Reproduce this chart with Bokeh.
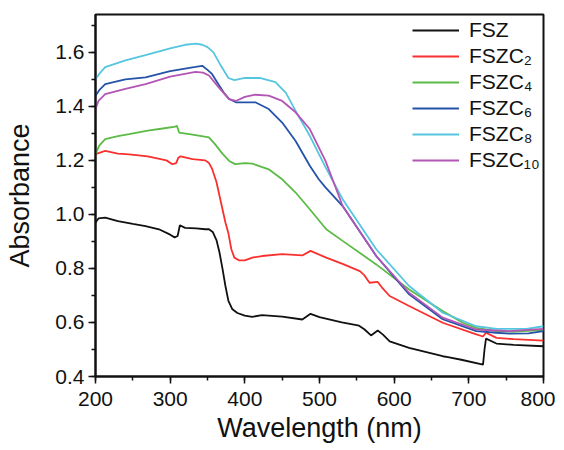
from bokeh.plotting import figure
from bokeh.models import Range1d, SingleIntervalTicker, Legend, LegendItem, PrintfTickFormatter
from bokeh.embed import file_html
from bokeh.resources import INLINE

# ---- data ----
fsz_x = [200, 204, 213, 230, 250, 267, 285, 300, 306, 310, 313, 320, 335, 347, 352, 357, 362, 366, 370,
         374, 378, 383, 390, 400, 410, 423, 450, 477, 488, 500, 530, 553, 560, 569, 578, 585, 594, 620,
         665, 672, 690, 719, 721, 723, 737, 760, 800]
fsz_y = [0.97, 0.985, 0.988, 0.975, 0.965, 0.957, 0.945, 0.925, 0.915, 0.92, 0.96, 0.95, 0.948, 0.945,
         0.945, 0.935, 0.905, 0.86, 0.80, 0.735, 0.68, 0.65, 0.635, 0.625, 0.621, 0.627, 0.622, 0.611,
         0.632, 0.62, 0.60, 0.588, 0.575, 0.552, 0.57, 0.555, 0.53, 0.506, 0.475, 0.472, 0.462, 0.444,
         0.50, 0.54, 0.522, 0.517, 0.512]

c2_x = [200, 205, 213, 230, 245, 270, 295, 303, 308, 311, 314, 330, 347, 352, 356, 362, 366, 370, 374,
        378, 382, 386, 392, 400, 410, 423, 450, 477, 488, 509, 530, 554, 560, 567, 578, 585, 594, 620,
        665, 710, 719, 723, 737, 760, 800]
c2_y = [1.223, 1.228, 1.235, 1.225, 1.222, 1.215, 1.20, 1.186, 1.19, 1.21, 1.215, 1.205, 1.20, 1.19,
        1.17, 1.12, 1.07, 1.02, 0.97, 0.93, 0.87, 0.84, 0.83, 0.83, 0.84, 0.846, 0.853, 0.848, 0.865,
        0.84, 0.818, 0.79, 0.775, 0.747, 0.75, 0.725, 0.698, 0.661, 0.599, 0.556, 0.548, 0.562, 0.543,
        0.538, 0.533]

c4_x = [200, 205, 213, 230, 245, 270, 290, 307, 309, 312, 330, 352, 360, 370, 379, 387, 400, 410, 432,
        450, 468, 487, 509, 531, 576, 620, 665, 692, 710, 737, 760, 800]
c4_y = [1.223, 1.255, 1.279, 1.29, 1.297, 1.31, 1.318, 1.325, 1.328, 1.303, 1.295, 1.285, 1.26, 1.225,
        1.198, 1.186, 1.19, 1.188, 1.167, 1.13, 1.081, 1.019, 0.945, 0.902, 0.815, 0.722, 0.642, 0.599,
        0.58, 0.568, 0.566, 0.572]

c6_x = [200, 205, 213, 240, 267, 300, 320, 334, 343, 350, 356, 365, 372, 379, 388, 400, 414, 432, 450,
        468, 487, 499, 508, 531, 576, 620, 665, 710, 737, 754, 780, 800]
c6_y = [1.439, 1.46, 1.482, 1.50, 1.507, 1.53, 1.54, 1.546, 1.55, 1.535, 1.52, 1.48, 1.45, 1.427, 1.415,
        1.415, 1.415, 1.39, 1.34, 1.272, 1.18, 1.13, 1.10, 1.031, 0.846, 0.704, 0.612, 0.568, 0.562,
        0.559, 0.56, 0.568]

c8_x = [200, 205, 213, 240, 267, 300, 320, 335, 343, 350, 358, 368, 378, 386, 400, 420, 441, 455, 468,
        487, 508, 531, 576, 620, 665, 710, 737, 777, 800]
c8_y = [1.501, 1.52, 1.545, 1.57, 1.59, 1.615, 1.628, 1.632, 1.628, 1.619, 1.60, 1.55, 1.505, 1.497,
        1.505, 1.505, 1.49, 1.45, 1.383, 1.291, 1.175, 1.056, 0.871, 0.735, 0.636, 0.586, 0.576, 0.576,
        0.586]

c10_x = [200, 204, 213, 240, 267, 300, 334, 344, 352, 365, 379, 388, 400, 414, 432, 450, 468, 487, 508,
         531, 576, 620, 665, 710, 754, 800]
c10_y = [1.39, 1.42, 1.445, 1.465, 1.482, 1.51, 1.528, 1.525, 1.514, 1.47, 1.427, 1.42, 1.435, 1.443,
         1.44, 1.42, 1.378, 1.316, 1.198, 1.031, 0.846, 0.71, 0.618, 0.574, 0.568, 0.576]

series_names = ["FSZ", "FSZC\u2082", "FSZC\u2084", "FSZC\u2086", "FSZC\u2088", "FSZC\u2081\u2080"]
series_colors = ["#111111", "#f8302e", "#5cba46", "#2553a8", "#55c6df", "#b355b5"]
series_xy = [(fsz_x, fsz_y), (c2_x, c2_y), (c4_x, c4_y), (c6_x, c6_y), (c8_x, c8_y), (c10_x, c10_y)]

x_label_text = "Wavelength (nm)"
y_label_text = "Absorbance"
x_major = 100
y_major = 0.2

FONT = "Liberation Sans"

p = figure(width=555, height=449, output_backend="svg", toolbar_location=None,
           x_range=Range1d(200, 800), y_range=Range1d(0.4, 1.74),
           min_border_left=95, min_border_right=12, min_border_top=14, min_border_bottom=73)

p.grid.visible = False
p.outline_line_color = "#111111"
p.outline_line_width = 2
p.background_fill_color = "white"
p.border_fill_color = "white"

items = []
for name, color, (xs, ys) in zip(series_names, series_colors, series_xy):
    r = p.line(xs, ys, line_color=color, line_width=1.8)
    items.append(LegendItem(label=name, renderers=[r]))

p.xaxis.ticker = SingleIntervalTicker(interval=x_major, num_minor_ticks=2)
p.yaxis.ticker = SingleIntervalTicker(interval=y_major, num_minor_ticks=2)
p.yaxis.formatter = PrintfTickFormatter(format="%.1f")

for ax in (p.xaxis[0], p.yaxis[0]):
    ax.axis_line_width = 2
    ax.axis_line_color = "#111111"
    ax.major_tick_line_color = "#111111"
    ax.minor_tick_line_color = "#111111"
    ax.major_tick_line_width = 1.5
    ax.minor_tick_line_width = 1.5
    ax.major_tick_in = 0
    ax.major_tick_out = 7
    ax.minor_tick_in = 0
    ax.minor_tick_out = 4
    ax.major_label_text_font = FONT
    ax.major_label_text_font_size = "21px"
    ax.major_label_text_color = "#111111"
    ax.axis_label_text_font = FONT
    ax.axis_label_text_font_size = "27px"
    ax.axis_label_text_font_style = "normal"
    ax.axis_label_text_color = "#111111"

p.xaxis.major_label_standoff = 8
p.xaxis.axis_label = x_label_text
p.xaxis.axis_label_standoff = 4
p.yaxis.major_label_standoff = 4
p.yaxis.axis_label = y_label_text
p.yaxis.axis_label_standoff = 17

legend = Legend(items=items, location=(317, 203), border_line_color=None,
                background_fill_alpha=0, padding=0, margin=0, spacing=0,
                glyph_width=47, glyph_height=26, label_height=26, label_standoff=10,
                label_text_font=FONT, label_text_font_size="21px", label_text_color="#111111")
p.add_layout(legend, "center")

open("out.html", "w").write(file_html(p, INLINE))
